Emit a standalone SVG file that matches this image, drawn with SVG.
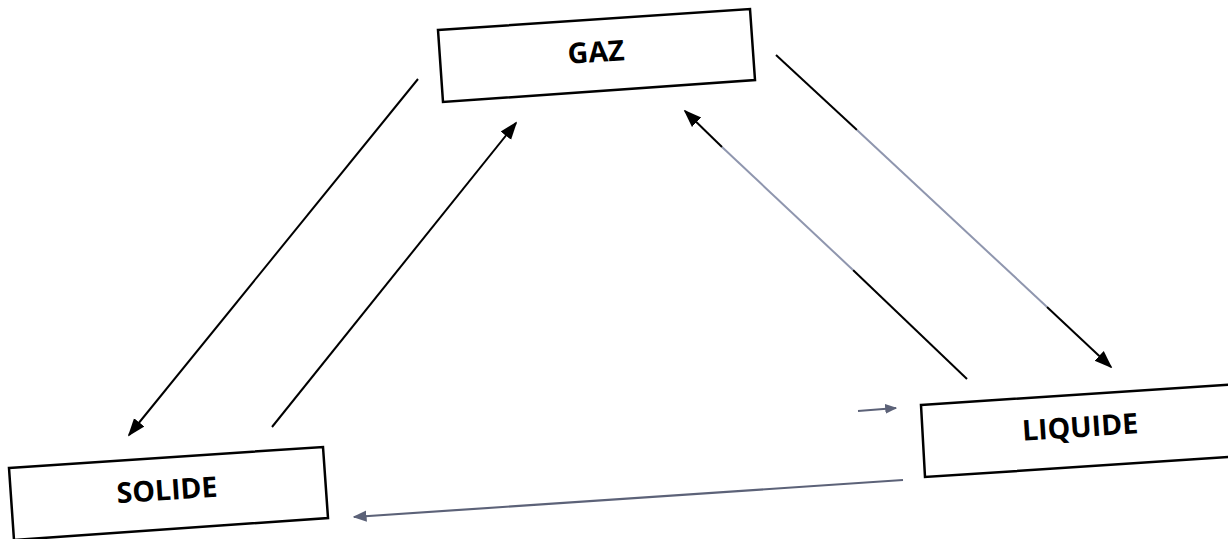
<svg xmlns="http://www.w3.org/2000/svg" width="1228" height="539" viewBox="0 0 1228 539">
  <style>
    .box { fill: #ffffff; stroke: #000000; stroke-width: 2.5; }
    .label { font-family: "Open Sans", "Liberation Sans", sans-serif; font-weight: bold; font-size: 28.5px; fill: #000000; text-anchor: middle; }
    .dark { stroke: #000000; stroke-width: 2; fill: none; }
    .grey { stroke: #8f96ae; stroke-width: 2; fill: none; }
    .slate { stroke: #5c6278; stroke-width: 2.2; fill: none; }
  </style>
  <defs>
    <marker id="headDark" viewBox="0 0 10 10" refX="9" refY="5" markerWidth="18" markerHeight="18" markerUnits="userSpaceOnUse" orient="auto">
      <path d="M0,1.3 L10,5 L0,8.7 z" fill="#000000"/>
    </marker>
    <marker id="headSlate" viewBox="0 0 10 10" refX="9" refY="5" markerWidth="14" markerHeight="14" markerUnits="userSpaceOnUse" orient="auto">
      <path d="M0,1 L10,5 L0,9 z" fill="#5c6278"/>
    </marker>
    <marker id="headSlateSmall" viewBox="0 0 10 10" refX="9" refY="5" markerWidth="12" markerHeight="12" markerUnits="userSpaceOnUse" orient="auto">
      <path d="M0,1 L10,5 L0,9 z" fill="#5c6278"/>
    </marker>
  </defs>

  <rect width="1228" height="539" fill="#ffffff"/>

  <!-- connectors -->
  <g id="connectors">
    <!-- gaz to solide -->
    <line class="dark" x1="418" y1="79" x2="129" y2="435" marker-end="url(#headDark)"/>
    <!-- solide to gaz -->
    <line class="dark" x1="272" y1="427" x2="516" y2="123" marker-end="url(#headDark)"/>
    <!-- gaz to liquide -->
    <line class="dark" x1="776" y1="55" x2="857" y2="130"/>
    <line class="grey" x1="857" y1="130" x2="1047" y2="307"/>
    <line class="dark" x1="1047" y1="307" x2="1111" y2="367" marker-end="url(#headDark)"/>
    <!-- liquide to gaz -->
    <line class="dark" x1="967" y1="379" x2="853" y2="270"/>
    <line class="grey" x1="853" y1="270" x2="722" y2="147"/>
    <line class="dark" x1="722" y1="147" x2="685" y2="111" marker-end="url(#headDark)"/>
    <!-- liquide to solide -->
    <line class="slate" x1="903" y1="480" x2="354" y2="517" marker-end="url(#headSlate)"/>
    <!-- short arrow toward liquide -->
    <line class="slate" x1="858" y1="411" x2="896" y2="408" marker-end="url(#headSlateSmall)"/>
  </g>

  <!-- nodes -->
  <g id="gaz">
    <polygon class="box" points="438,30 750,9 755,80 443,102"/>
    <text class="label" x="596" y="62" transform="rotate(-3.8 596 52)">GAZ</text>
  </g>
  <g id="solide">
    <polygon class="box" points="9,468 323,447 328,518 14,540"/>
    <text class="label" x="167" y="500" transform="rotate(-3.8 167 490)">SOLIDE</text>
  </g>
  <g id="liquide">
    <polygon class="box" points="921,405 1240,384 1245,456 925,477"/>
    <text class="label" x="1080" y="437" transform="rotate(-3.8 1080 427)">LIQUIDE</text>
  </g>
</svg>
